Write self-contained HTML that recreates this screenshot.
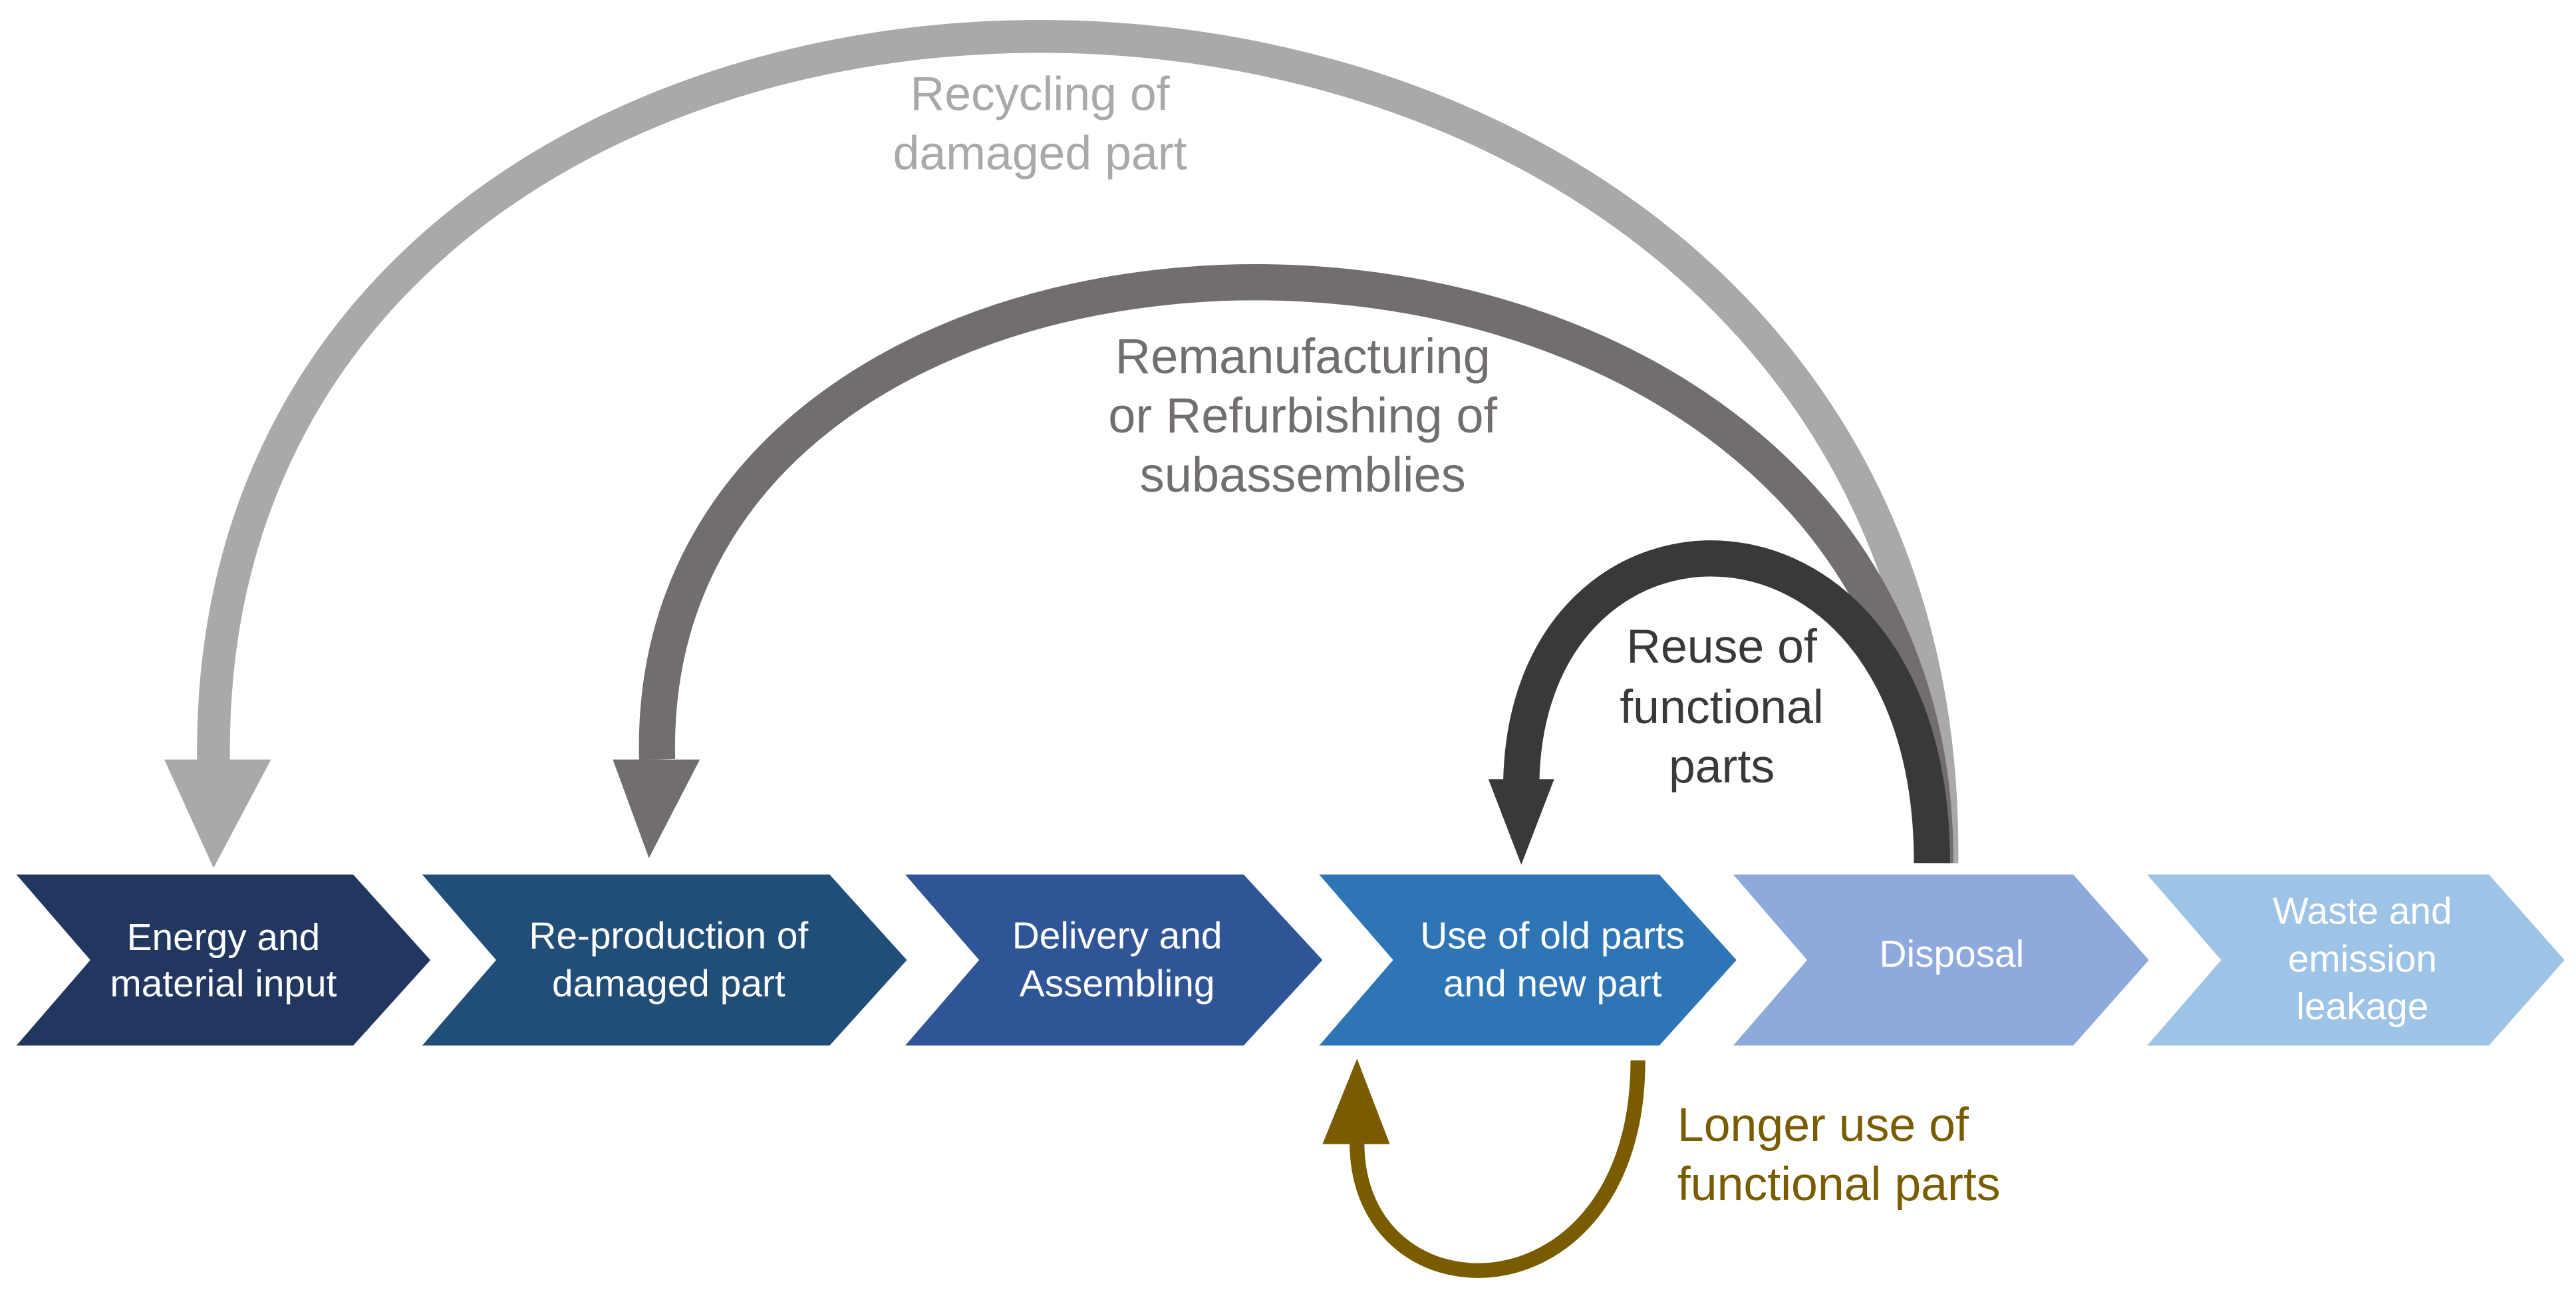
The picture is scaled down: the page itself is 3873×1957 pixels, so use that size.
<!DOCTYPE html>
<html><head><meta charset="utf-8"><style>
html,body{margin:0;padding:0;background:#fff;}
svg{display:block;}
text{font-family:"Liberation Sans",sans-serif;}
</style></head><body>
<svg width="3873" height="1957" viewBox="0 0 1568 792" preserveAspectRatio="none" xmlns="http://www.w3.org/2000/svg">
<rect width="1568" height="792" fill="#fff"/>
<!-- arcs -->
<path d="M1182,525 C1190,-130 120,-140 130,465" fill="none" stroke="#aaa8a8" stroke-width="20"/>
<polygon points="100,462 165,462 130,528" fill="#aaa8a8"/>
<path d="M1178,525 C1180,65 390,65 400,462" fill="none" stroke="#726e6e" stroke-width="22"/>
<polygon points="373,462 426,462 395,522" fill="#726e6e"/>
<path d="M1176,525 C1176,287 930,287 926,475" fill="none" stroke="#3a3939" stroke-width="22"/>
<polygon points="906,474 946,474 926,526" fill="#3a3939"/>
<path d="M997,645 C997,806 826,806 826,695" fill="none" stroke="#7a5c00" stroke-width="9"/>
<polygon points="805,696 846,696 826,644" fill="#7a5c00"/>
<!-- chevrons -->
<polygon points="10,532 215,532 262,584 215,636 10,636 55,584" fill="#22375f"/>
<polygon points="257,532 505,532 552,584 505,636 257,636 302,584" fill="#214e78"/>
<polygon points="551,532 757,532 805,584 757,636 551,636 596,584" fill="#2f5597"/>
<polygon points="803,532 1010,532 1057,584 1010,636 803,636 848,584" fill="#2e75b6"/>
<polygon points="1055,532 1262,532 1308,584 1262,636 1055,636 1100,584" fill="#8eaadc"/>
<polygon points="1307,532 1515,532 1561,584 1515,636 1307,636 1352,584" fill="#9dc3e6"/>
<g fill="#fff" font-size="23" text-anchor="middle">
<text x="136" y="578">Energy and</text><text x="136" y="606">material input</text>
<text x="407" y="577">Re-production of</text><text x="407" y="606">damaged part</text>
<text x="680" y="577">Delivery and</text><text x="680" y="606">Assembling</text>
<text x="945" y="577">Use of old parts</text><text x="945" y="606">and new part</text>
<text x="1188" y="588">Disposal</text>
<text x="1438" y="562">Waste and</text><text x="1438" y="591">emission</text><text x="1438" y="620">leakage</text>
</g>
<g font-size="29" text-anchor="middle">
<text x="633" y="67" fill="#aaa8a8">Recycling of</text><text x="633" y="103" fill="#aaa8a8">damaged part</text>
<text x="793" y="227" fill="#726e6e" font-size="30">Remanufacturing</text><text x="793" y="263" fill="#726e6e" font-size="30">or Refurbishing of</text><text x="793" y="299" fill="#726e6e" font-size="30">subassemblies</text>
<text x="1048" y="403" fill="#3a3939">Reuse of</text><text x="1048" y="440" fill="#3a3939">functional</text><text x="1048" y="476" fill="#3a3939">parts</text>
</g>
<g font-size="29" fill="#7a5c00">
<text x="1021" y="694">Longer use of</text><text x="1021" y="730">functional parts</text>
</g>
</svg>
</body></html>
